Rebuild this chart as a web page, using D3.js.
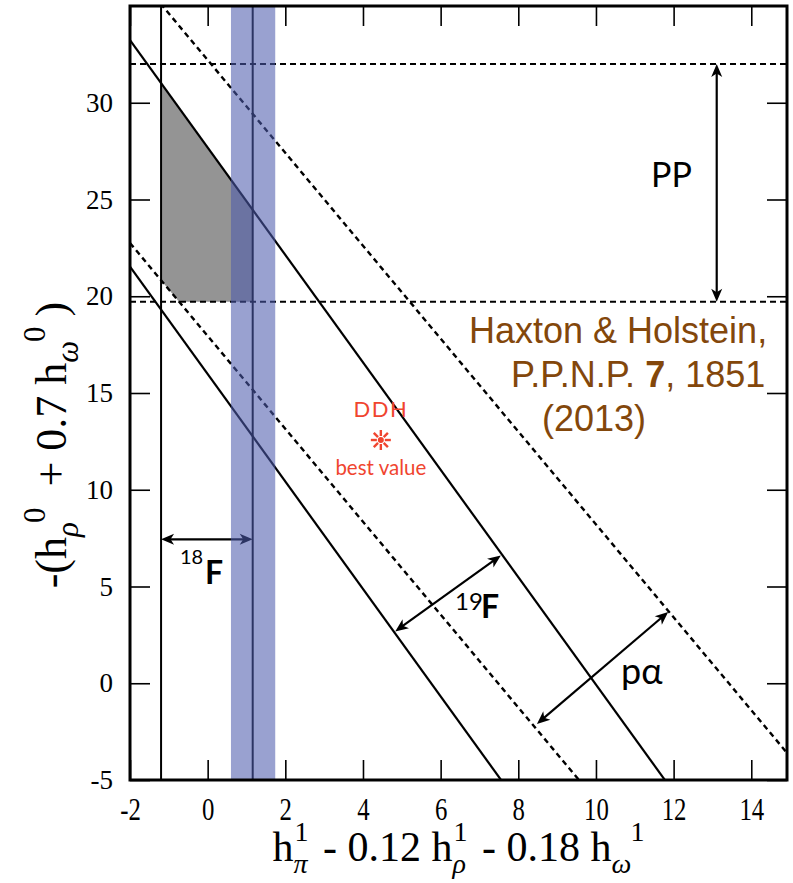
<!DOCTYPE html>
<html>
<head>
<meta charset="utf-8">
<script src="https://cdn.jsdelivr.net/npm/d3@7"></script>
<style>
  html, body { margin: 0; padding: 0; background: #fff; }
  svg text { white-space: pre; }
</style>
</head>
<body>
<svg id="chart" width="793" height="883"></svg>
<script>
// Axis ranges and tick values
const xDomain = [-2, 14.92];
const yDomain = [-5, 35];
const xTicks = [-2, 0, 2, 4, 6, 8, 10, 12, 14];
const yTicks = [-5, 0, 5, 10, 15, 20, 25, 30];

// Diagonal constraint bands: value at x = -2 and slope
const f19Bounds = [{ at: 33.24, slope: -2.776 }, { at: 21.53, slope: -2.776 }];
const pAlphaBounds = [{ at: 37.01, slope: -2.40 }, { at: 22.75, slope: -2.40 }];
// Horizontal pp bounds
const ppBounds = [19.72, 32.0];
// Vertical 18F bound and the blue band
const f18Bound = -1.2;
const bandRange = [0.6, 1.74];
const bandCenter = 1.16;
// DDH best value
const ddhPoint = [4.46, 12.57];

// Double-headed arrows (data coordinates)
const arrowF18 = [[-1.2, 7.44], [1.16, 7.44]];
const arrowF19 = [[4.83, 2.68], [7.55, 6.6]];
const arrowPA = [[8.48, -2.1], [11.86, 3.68]];
const arrowPP = [[13.11, 19.72], [13.11, 32.0]];

const svg = d3.select("#chart");
const m = { left: 130, right: 787, top: 6, bottom: 780 };

const x = d3.scaleLinear().domain(xDomain).range([m.left, m.right]);
const y = d3.scaleLinear().domain(yDomain).range([m.bottom, m.top]);

const lineAt = (b, xv) => b.at + b.slope * (xv - xDomain[0]);

const headGap = 5;
const defs = svg.append("defs");
defs.append("clipPath").attr("id", "plot-clip")
  .append("rect").attr("x", m.left).attr("y", m.top)
  .attr("width", m.right - m.left).attr("height", m.bottom - m.top);
defs.append("marker").attr("id", "head")
  .attr("markerUnits", "userSpaceOnUse")
  .attr("viewBox", "-14 -7 16 14")
  .attr("refX", -headGap).attr("refY", 0)
  .attr("markerWidth", 16).attr("markerHeight", 14)
  .attr("orient", "auto-start-reverse")
  .append("path").attr("d", "M0,0 L-13,-5.5 L-9.5,0 L-13,5.5 Z").attr("fill", "#000");

const plot = svg.append("g").attr("clip-path", "url(#plot-clip)");

// Allowed region (grey)
const bUp = f19Bounds[0];
const bLowPa = pAlphaBounds[1];
const xCut = xDomain[0] + (bLowPa.at - ppBounds[0]) / -bLowPa.slope;
const region = [
  [f18Bound, lineAt(bUp, f18Bound)],
  [bandCenter, lineAt(bUp, bandCenter)],
  [bandCenter, ppBounds[0]],
  [xCut, ppBounds[0]],
  [f18Bound, lineAt(bLowPa, f18Bound)]
];
plot.append("path")
  .attr("d", d3.line().x(d => x(d[0])).y(d => y(d[1]))(region) + "Z")
  .attr("fill", "#949494");

// Horizontal pp bounds (dashed)
plot.selectAll(".pp").data(ppBounds).join("line")
  .attr("x1", m.left).attr("x2", m.right)
  .attr("y1", d => y(d)).attr("y2", d => y(d))
  .attr("stroke", "#000").attr("stroke-width", 2).attr("stroke-dasharray", "6,4");

// Diagonal bounds
const xs = [xDomain[0], 16];
plot.selectAll(".f19").data(f19Bounds).join("line")
  .attr("x1", x(xs[0])).attr("x2", x(xs[1]))
  .attr("y1", d => y(lineAt(d, xs[0]))).attr("y2", d => y(lineAt(d, xs[1])))
  .attr("stroke", "#000").attr("stroke-width", 2.2);
plot.selectAll(".pa").data(pAlphaBounds).join("line")
  .attr("x1", x(xs[0])).attr("x2", x(xs[1]))
  .attr("y1", d => y(lineAt(d, xs[0]))).attr("y2", d => y(lineAt(d, xs[1])))
  .attr("stroke", "#000").attr("stroke-width", 2.4).attr("stroke-dasharray", "5.5,4");

// Vertical lines: 18F bound and band centre
plot.selectAll(".vline").data([f18Bound, bandCenter]).join("line")
  .attr("x1", d => x(d)).attr("x2", d => x(d))
  .attr("y1", m.top).attr("y2", m.bottom)
  .attr("stroke", "#000").attr("stroke-width", 2);

// Arrows
function arrow(pts) {
  const [p0, p1] = pts.map(p => [x(p[0]), y(p[1])]);
  const dx = p1[0] - p0[0], dy = p1[1] - p0[1];
  const len = Math.hypot(dx, dy), ux = dx / len, uy = dy / len, s = headGap;
  plot.append("line")
    .attr("x1", p0[0] + ux * s).attr("y1", p0[1] + uy * s)
    .attr("x2", p1[0] - ux * s).attr("y2", p1[1] - uy * s)
    .attr("stroke", "#000").attr("stroke-width", 2.2)
    .attr("marker-start", "url(#head)").attr("marker-end", "url(#head)");
}
[arrowF18, arrowF19, arrowPA, arrowPP].forEach(arrow);

// Blue band over everything inside the frame
plot.append("rect")
  .attr("x", x(bandRange[0])).attr("width", x(bandRange[1]) - x(bandRange[0]))
  .attr("y", m.top).attr("height", m.bottom - m.top)
  .attr("fill", "rgb(77,90,173)").attr("fill-opacity", 0.574);

// Axes: inward ticks on all four sides
const serif = "'Liberation Serif', 'Times New Roman', serif";
const fmt = d => String(d);
const gx = svg.append("g").attr("transform", `translate(0,${m.bottom})`)
  .call(d3.axisBottom(x).tickValues(xTicks).tickSize(-20).tickPadding(18).tickFormat(fmt));
const gy = svg.append("g").attr("transform", `translate(${m.left},0)`)
  .call(d3.axisLeft(y).tickValues(yTicks).tickSize(-20).tickPadding(17).tickFormat(fmt));
const gt = svg.append("g").attr("transform", `translate(0,${m.top})`)
  .call(d3.axisTop(x).tickValues(xTicks).tickSize(-20).tickFormat(""));
const gr = svg.append("g").attr("transform", `translate(${m.right},0)`)
  .call(d3.axisRight(y).tickValues(yTicks).tickSize(-20).tickFormat(""));
[gx, gy, gt, gr].forEach(g => {
  g.attr("font-family", serif);
  g.select(".domain").remove();
  g.selectAll(".tick line").attr("stroke", "#000").attr("stroke-width", 1.6);
});
gx.selectAll(".tick text")
  .style("font-family", serif).style("font-size", "31px").attr("fill", "#000")
  .attr("transform", "scale(0.8,1)");
gy.selectAll(".tick text")
  .style("font-family", serif).style("font-size", "27px").attr("fill", "#000");

// Frame
svg.append("rect").attr("x", m.left).attr("y", m.top)
  .attr("width", m.right - m.left).attr("height", m.bottom - m.top)
  .attr("fill", "none").attr("stroke", "#000").attr("stroke-width", 3);

// Math-style axis titles; sub/superscripts stacked or in sequence
function mathLabel(g, tokens, size, small, gap) {
  let cx = 0;
  tokens.forEach((tok, i) => {
    if (i > 0) cx += gap;
    const t = g.append("text").attr("x", cx).attr("y", 0)
      .style("font-size", size + "px").text(tok.t);
    cx += t.node().getComputedTextLength();
    let w = 0;
    if (tok.sub) {
      const s = g.append("text").attr("x", cx).attr("y", size * 0.28)
        .style("font-size", small + "px").attr("font-style", "italic").text(tok.sub);
      w = s.node().getComputedTextLength();
    }
    if (tok.sup) {
      const sx = tok.seq ? cx + w - 1 : cx + 1;
      const s = g.append("text").attr("x", sx).attr("y", -size * 0.48)
        .style("font-size", small + "px").text(tok.sup);
      const sw = s.node().getComputedTextLength();
      w = tok.seq ? w - 1 + sw : Math.max(w, sw + 1);
    }
    cx += w;
  });
  g.selectAll("text").attr("x", function () { return +this.getAttribute("x") - cx / 2; });
}
const xTitle = svg.append("g").attr("transform", `translate(${(m.left + m.right) / 2},861)`)
  .attr("font-family", serif).attr("fill", "#000");
mathLabel(xTitle, [
  { t: "h", sub: "π", sup: "1" },
  { t: " - 0.12 h", sub: "ρ", sup: "1" },
  { t: " - 0.18 h", sub: "ω", sup: "1", seq: true }
], 42, 28, 4);
const yTitle = svg.append("g").attr("transform", `translate(66,445) rotate(-90)`)
  .attr("font-family", serif).attr("fill", "#000");
mathLabel(yTitle, [
  { t: "-(h", sub: "ρ", sup: "0", seq: true },
  { t: " + 0.7 h", sub: "ω", sup: "0", seq: true },
  { t: ")" }
], 44, 31, 10);

// Annotations
const sans = "Lato, 'Open Sans', sans-serif";
const ann = svg.append("g").attr("font-family", sans).attr("fill", "#000");
ann.append("text").attr("x", 651).attr("y", 187).style("font-size", "34px").text("PP");
ann.append("text").attr("x", 180).attr("y", 564).style("font-size", "20px").text("18");
ann.append("text").attr("x", 205).attr("y", 584).style("font-size", "32px").attr("font-weight", "bold").text("F");
ann.append("text").attr("x", 455).attr("y", 610).style("font-size", "24px").text("19");
ann.append("text").attr("x", 481).attr("y", 618).style("font-size", "32px").attr("font-weight", "bold").text("F");
ann.append("text").attr("x", 621).attr("y", 684).style("font-size", "36px").text("pα");

// DDH best value
const red = "#f0452f";
const ddh = svg.append("g").attr("fill", red).attr("font-family", sans);
ddh.append("text").attr("x", x(ddhPoint[0])).attr("y", 417).attr("text-anchor", "middle")
  .style("font-size", "22px").attr("letter-spacing", 1.5).text("DDH");
ddh.append("text").attr("x", x(ddhPoint[0])).attr("y", 475).attr("text-anchor", "middle")
  .style("font-size", "20.5px").text("best value");
const star = svg.append("g").attr("transform", `translate(${x(ddhPoint[0])},${y(ddhPoint[1])})`);
star.selectAll("line").data(d3.range(8)).join("line")
  .attr("x1", d => 4 * Math.cos(d * Math.PI / 4)).attr("y1", d => 4 * Math.sin(d * Math.PI / 4))
  .attr("x2", d => 10 * Math.cos(d * Math.PI / 4)).attr("y2", d => 10 * Math.sin(d * Math.PI / 4))
  .attr("stroke", red).attr("stroke-width", 2.4);
star.append("circle").attr("r", 3).attr("fill", red);

// Citation
const brown = "#83470b";
const cite = svg.append("g").attr("font-family", "'Liberation Sans', Arial, sans-serif")
  .style("font-size", "36px").attr("fill", brown);
cite.append("text").attr("x", 469).attr("y", 343).text("Haxton & Holstein,");
const c2 = cite.append("text").attr("x", 511).attr("y", 387);
c2.append("tspan").text("P.P.N.P. ");
c2.append("tspan").attr("font-weight", "bold").text("7");
c2.append("tspan").text(", 1851");
cite.append("text").attr("x", 542).attr("y", 431).text("(2013)");
</script>
</body>
</html>
